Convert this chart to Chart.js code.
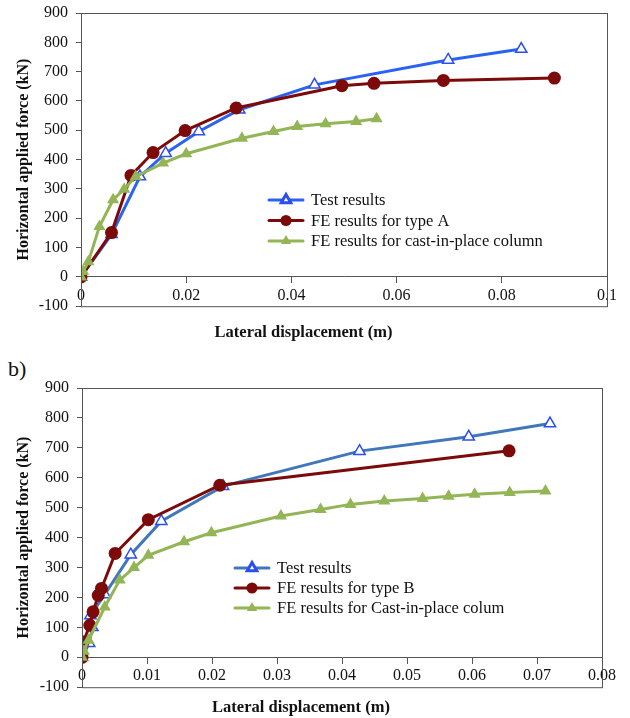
<!DOCTYPE html>
<html>
<head>
<meta charset="utf-8">
<script src="https://cdn.jsdelivr.net/npm/chart.js@4.4.1/dist/chart.umd.min.js"></script>
<style>
  body { margin: 0; background: #fff; width: 630px; height: 718px; position: relative; overflow: hidden; }
  #wrapA { position: absolute; left: 0; top: 0; width: 630px; height: 350px; }
  #wrapB { position: absolute; left: 0; top: 360px; width: 630px; height: 358px; }
  #tagB { position: absolute; left: 8px; top: 356px; font: 22px "Liberation Serif", serif; color: #111; }
</style>
</head>
<body>
<div id="wrapA"><canvas id="chartA"></canvas></div>
<div id="tagB">b)</div>
<div id="wrapB"><canvas id="chartB"></canvas></div>
<script>
// force ticks shared by both charts (kN)
const forceMin = -100
const forceMax = 900
const forceStep = 100

// ---- chart a) : type A connection ----
const dispMaxA = 0.1
const dispStepA = 0.02
const testA = [
  [0, 0], [0.0058, 145], [0.0112, 342], [0.0161, 422], [0.0224, 496],
  [0.0301, 570], [0.0444, 655], [0.0698, 740], [0.0837, 777]
]
const feTypeA = [
  [0, 0], [0.0058, 151], [0.0095, 346], [0.0137, 424], [0.0198, 499],
  [0.0295, 576], [0.0496, 652], [0.0557, 660], [0.0689, 670], [0.0900, 678]
]
const castA = [
  [0, 0], [0.0004, 18], [0.0014, 52], [0.0035, 172], [0.0061, 263],
  [0.0082, 299], [0.0104, 342], [0.0156, 388], [0.0200, 420], [0.0306, 473],
  [0.0366, 496], [0.0411, 513], [0.0465, 522], [0.0523, 530], [0.0562, 539]
]

// ---- chart b) : type B connection ----
const dispMaxB = 0.08
const dispStepB = 0.01
const testB = [
  [0, 0], [0.0011, 47], [0.0016, 100], [0.0013, 140], [0.0035, 210],
  [0.0075, 343], [0.0122, 455], [0.0217, 572], [0.0427, 689], [0.0595, 737], [0.0720, 781]
]
const feTypeB = [
  [0, 0], [0.0002, 51], [0.0012, 107], [0.0017, 152], [0.0025, 207],
  [0.0030, 230], [0.0051, 347], [0.0102, 460], [0.0212, 575], [0.0657, 690]
]
const castB = [
  [0, 0], [0.0003, 20], [0.0010, 57], [0.0035, 168], [0.0058, 258],
  [0.0080, 300], [0.0102, 341], [0.0157, 386], [0.0199, 416], [0.0306, 472],
  [0.0367, 494], [0.0413, 511], [0.0465, 522], [0.0524, 531], [0.0564, 538],
  [0.0604, 545], [0.0658, 551], [0.0713, 556]
]

const serif = '"Liberation Serif", "Times New Roman", serif'
const red = '#7d0a0a'
const green = '#93b556'
const markerBlue = '#2a4ff0'

const toXY = arr => arr.map(p => ({ x: p[0], y: p[1] }))

function testSet(label, data, lineColor) {
  return {
    label, data: toXY(data), order: 2,
    borderColor: lineColor, borderWidth: 3,
    pointStyle: 'triangle', pointRadius: 6.5, pointBorderWidth: 1.5,
    pointBackgroundColor: '#fff', pointBorderColor: markerBlue
  }
}
function feSet(label, data) {
  return {
    label, data: toXY(data), order: 1,
    borderColor: red, borderWidth: 3,
    pointStyle: 'circle', pointRadius: 6.5, pointBorderWidth: 0,
    pointBackgroundColor: red, pointBorderColor: red
  }
}
function castSet(label, data) {
  return {
    label, data: toXY(data), order: 0,
    borderColor: green, borderWidth: 3,
    pointStyle: 'triangle', pointRadius: 7, pointBorderWidth: 0,
    pointBackgroundColor: green, pointBorderColor: green
  }
}

// frame around plot + line/marker legend inside the plot
const framePlugin = {
  id: 'frame',
  afterDraw(chart, args, opts) {
    const { ctx, chartArea: a } = chart
    ctx.save()
    ctx.strokeStyle = '#555'
    ctx.lineWidth = 1
    ctx.strokeRect(a.left + 0.5, a.top + 0.5, a.right - a.left, a.bottom - a.top)

    // legend
    const lx = a.left + opts.dx
    let ly = a.top + opts.dy
    ctx.font = '16.5px ' + serif
    ctx.textBaseline = 'middle'
    chart.data.datasets.forEach(ds => {
      ctx.strokeStyle = ds.borderColor
      ctx.lineWidth = 3
      ctx.lineCap = 'round'
      ctx.beginPath()
      ctx.moveTo(lx, ly)
      ctx.lineTo(lx + 34, ly)
      ctx.stroke()
      ctx.fillStyle = ds.pointBackgroundColor
      ctx.strokeStyle = ds.pointBorderColor
      Chart.helpers.drawPoint(ctx, {
        pointStyle: ds.pointStyle, radius: ds.pointRadius * 0.85, rotation: 0,
        borderWidth: ds.pointBorderWidth
      }, lx + 17, ly)
      ctx.fillStyle = '#111'
      ctx.fillText(ds.label, lx + 42, ly + 1)
      ly += opts.rowGap
    })
    ctx.restore()
  }
}

const tickFmt = v => String(+v.toFixed(4))

function makeChart(id, datasets, dispMax, dispStep, geo) {
  return new Chart(document.getElementById(id), {
    type: 'scatter',
    data: { datasets },
    plugins: [framePlugin],
    options: {
      responsive: true,
      maintainAspectRatio: false,
      animation: false,
      elements: { line: { tension: 0 } },
      datasets: { scatter: { showLine: true } },
      layout: { padding: { left: 0, right: geo.padRight, top: geo.padTop, bottom: 0 } },
      plugins: {
        legend: { display: false },
        tooltip: { enabled: false },
        frame: geo.legend,
        title: {
          display: true, position: 'bottom', text: 'Lateral displacement (m)',
          color: '#111', font: { family: serif, size: 16.5, weight: 'bold' },
          padding: { top: geo.titleTop, bottom: geo.titleBottom }
        }
      },
      scales: {
        x: {
          type: 'linear', position: { y: 0 },
          min: 0, max: dispMax,
          ticks: { stepSize: dispStep, padding: 3, color: '#111', callback: tickFmt,
                   font: { family: serif, size: 16 } },
          grid: { drawOnChartArea: false, drawTicks: true, tickLength: 6, color: '#555' },
          border: { color: '#555' }
        },
        y: {
          type: 'linear', min: forceMin, max: forceMax,
          afterFit: s => { s.width = geo.yWidth },
          ticks: { stepSize: forceStep, padding: 8, color: '#111',
                   font: { family: serif, size: 16, lineHeight: 0.6 } },
          grid: { drawOnChartArea: false, drawTicks: true, tickLength: 5, color: '#555' },
          border: { color: '#555' },
          title: {
            display: true, text: 'Horizontal applied force (kN)', color: '#111',
            font: { family: serif, size: 16, weight: 'bold' }, padding: { top: 14, bottom: 0 }
          }
        }
      }
    }
  })
}

makeChart('chartA', [
  testSet('Test results', testA, '#2a62f2'),
  feSet('FE results for type A', feTypeA),
  castSet('FE results for cast-in-place column', castA)
], dispMaxA, dispStepA, {
  padRight: 23, padTop: 13, yWidth: 81, titleTop: 17, titleBottom: 7,
  legend: { dx: 188, dy: 187, rowGap: 20.5 }
})

makeChart('chartB', [
  testSet('Test results', testB, '#4077bb'),
  feSet('FE results for type B', feTypeB),
  castSet('FE results for Cast-in-place colum', castB)
], dispMaxB, dispStepB, {
  padRight: 28, padTop: 28, yWidth: 82, titleTop: 11, titleBottom: 0,
  legend: { dx: 153, dy: 180, rowGap: 20 }
})
</script>
</body>
</html>
